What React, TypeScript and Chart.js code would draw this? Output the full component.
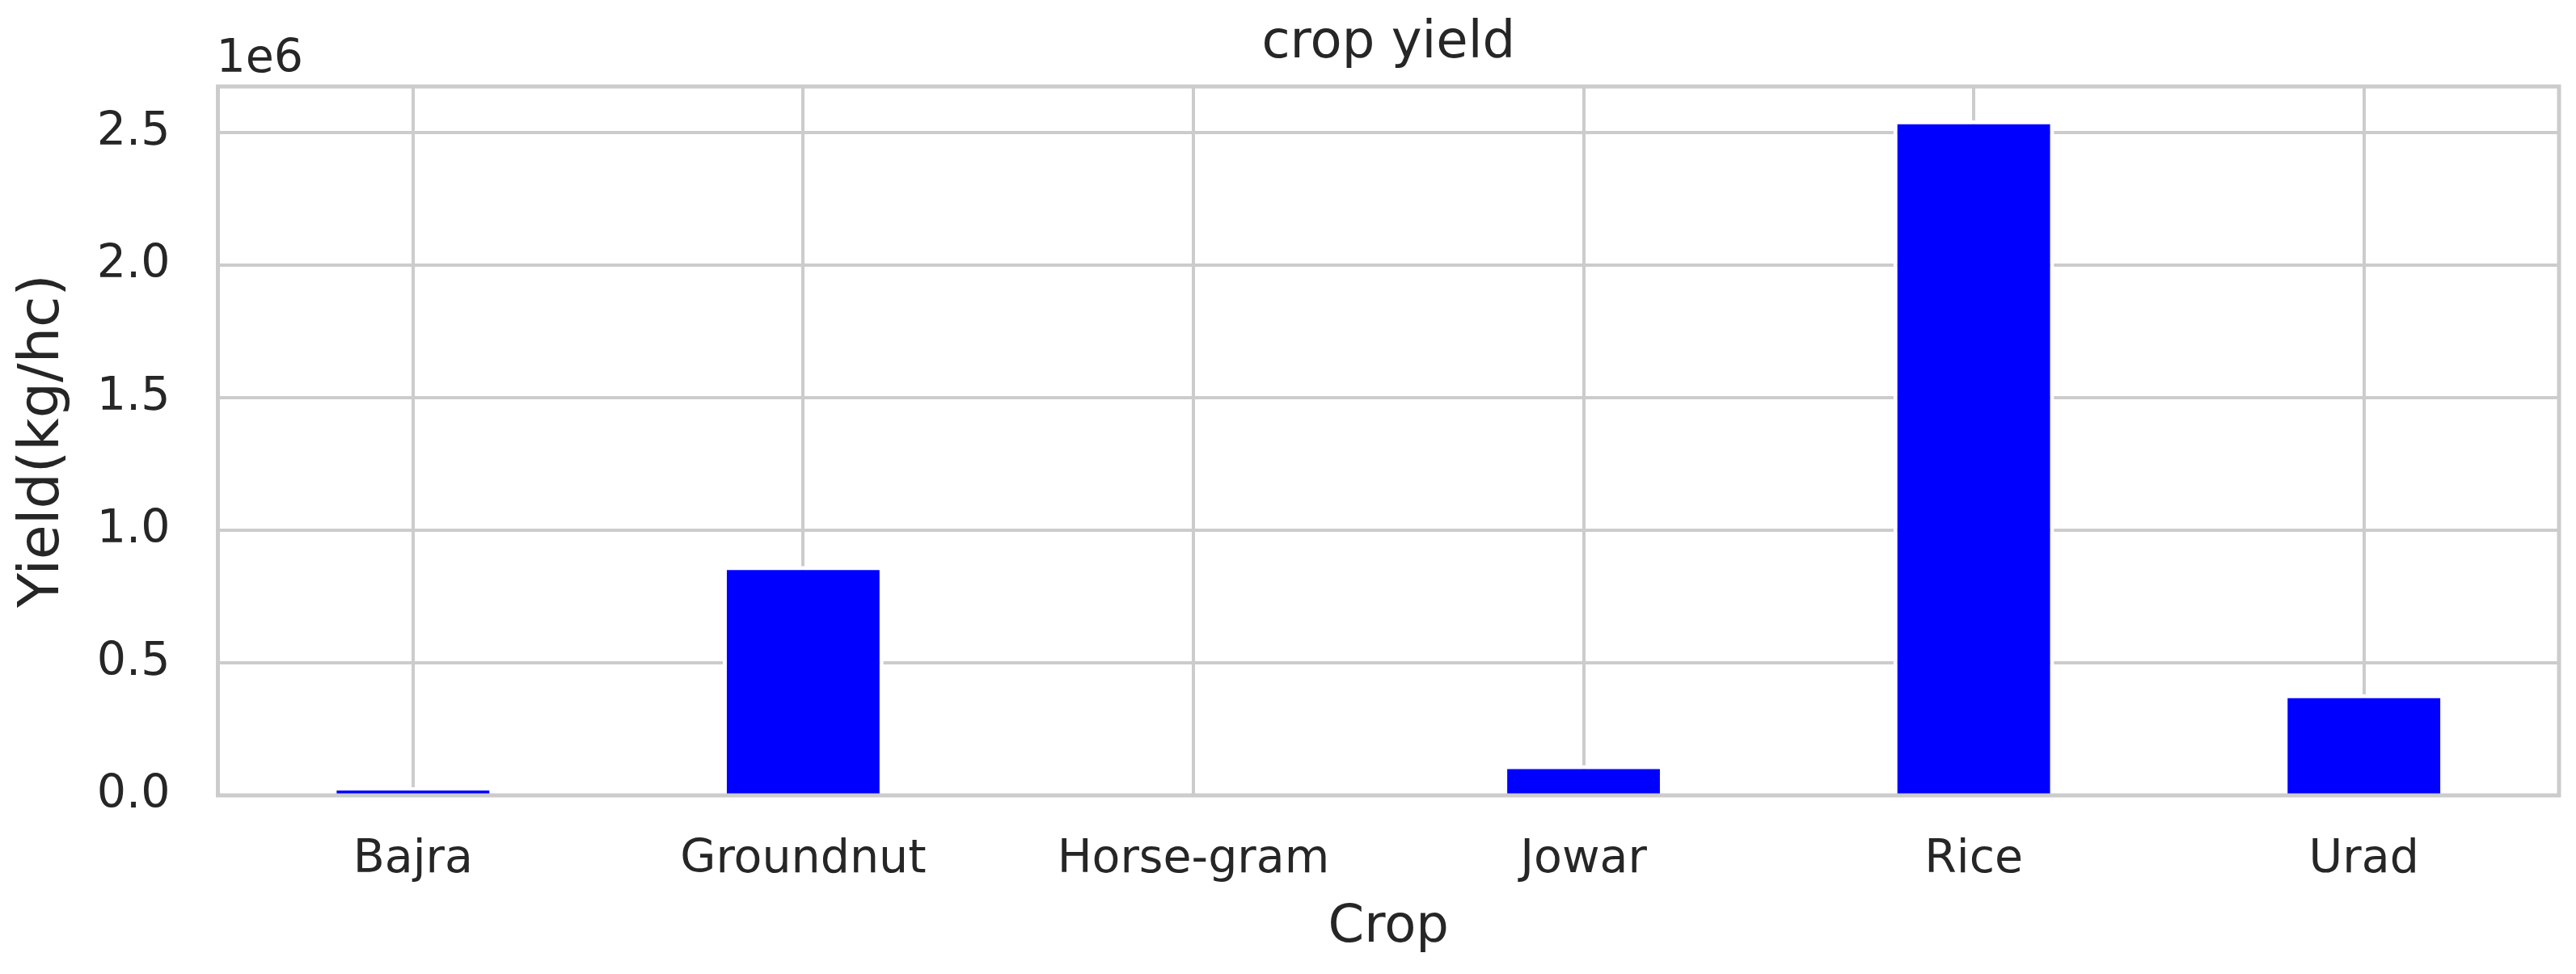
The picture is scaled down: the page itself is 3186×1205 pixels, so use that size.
import React, { useEffect, useRef } from "react";
import { Chart, registerables } from "chart.js";

Chart.register(...registerables);

const categories = ["Bajra", "Groundnut", "Horse-gram", "Jowar", "Rice", "Urad"];
const yieldValues = [31000, 865000, 1000, 114000, 2547000, 382000];
const yTickValues = [0, 500000, 1000000, 1500000, 2000000, 2500000];
const yTickScale = 1e6;
const yOffsetLabel = "1e6";
const chartTitle = "crop yield";
const xAxisTitle = "Crop";
const yAxisTitle = "Yield(kg/hc)";

const W = 3186;
const H = 1205;
const TEXT = "#262626";
const GRID = "#cccccc";
const FONT = "'DejaVu Sans', sans-serif";

const framePlugin = {
  id: "frameAndOffset",
  afterDatasetsDraw(chart: any) {
    const { ctx, chartArea } = chart;
    ctx.save();
    ctx.strokeStyle = GRID;
    ctx.lineWidth = 5;
    ctx.strokeRect(chartArea.left, chartArea.top, chartArea.right - chartArea.left, chartArea.bottom - chartArea.top);
    ctx.fillStyle = TEXT;
    ctx.font = `57px ${FONT}`;
    ctx.textAlign = "left";
    ctx.textBaseline = "alphabetic";
    ctx.fillText(yOffsetLabel, chartArea.left - 2, 88.5);
    ctx.restore();
  },
};

export default function App() {
  const ref = useRef<HTMLCanvasElement | null>(null);
  useEffect(() => {
    if (!ref.current) return;
    const maxY = Math.max(...yieldValues) * 1.05;
    const chart = new Chart(ref.current, {
      type: "bar",
      data: {
        labels: categories,
        datasets: [
          {
            data: yieldValues,
            backgroundColor: "#0000ff",
            borderColor: "#ffffff",
            borderWidth: 5,
            borderSkipped: "start",
            barPercentage: 0.412,
            categoryPercentage: 1,
          },
        ],
      },
      options: {
        responsive: false,
        animation: false,
        layout: { padding: { left: 0, right: 21, top: 0, bottom: 0 } },
        plugins: {
          legend: { display: false },
          tooltip: { enabled: false },
          title: {
            display: true,
            fullSize: false,
            text: chartTitle,
            color: TEXT,
            font: { family: FONT, size: 64, weight: "normal" },
            padding: { top: 16, bottom: 14.2 },
          },
        },
        scales: {
          x: {
            grid: { color: GRID, lineWidth: 4, offset: false, drawTicks: false },
            border: { display: false },
            ticks: { color: TEXT, font: { family: FONT, size: 57 }, padding: 46, maxRotation: 0 },
            title: {
              display: true,
              text: xAxisTitle,
              color: TEXT,
              font: { family: FONT, size: 64 },
              padding: { top: 0, bottom: 18.6 },
            },
            afterFit: (scale: any) => {
              scale.height = H - 984;
            },
          },
          y: {
            min: 0,
            max: maxY,
            grid: { color: GRID, lineWidth: 4, drawTicks: false },
            border: { display: false },
            afterBuildTicks: (scale: any) => {
              scale.ticks = yTickValues.map((v) => ({ value: v }));
            },
            ticks: {
              color: TEXT,
              font: { family: FONT, size: 57 },
              padding: 59,
              callback: (v: any) => (Number(v) / yTickScale).toFixed(1),
            },
            title: {
              display: true,
              text: yAxisTitle,
              color: TEXT,
              font: { family: FONT, size: 70 },
              padding: { top: 12, bottom: 0 },
            },
            afterFit: (scale: any) => {
              scale.width = 269.5;
            },
          },
        },
      },
      plugins: [framePlugin],
    });
    return () => chart.destroy();
  }, []);
  return (
    <div style={{ position: "absolute", left: 0, top: 0, width: W, height: H, background: "#ffffff" }}>
      <canvas ref={ref} width={W} height={H} style={{ width: W, height: H, display: "block" }} />
    </div>
  );
}
